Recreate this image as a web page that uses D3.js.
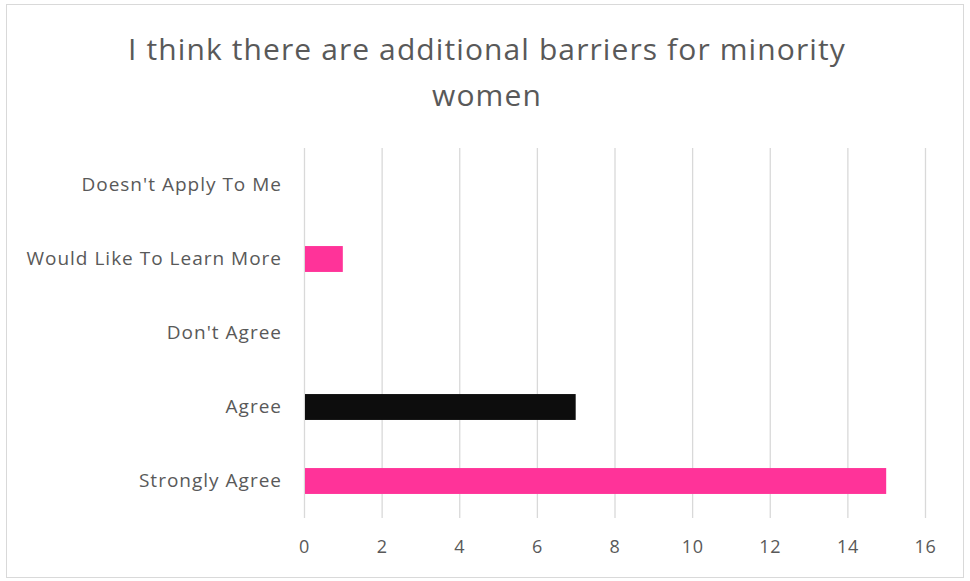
<!DOCTYPE html>
<html>
<head>
<meta charset="utf-8">
<script src="https://cdn.jsdelivr.net/npm/d3@7"></script>
<style>
  html, body { margin: 0; padding: 0; background: #fff; }
  svg { display: block; }
  text { font-family: "Open Sans", "Noto Sans", sans-serif; fill: #595959; }
</style>
</head>
<body>
<svg id="chart" width="970" height="581"></svg>
<script>
// Survey responses, top to bottom as listed on the axis
const categories = ["Doesn't Apply To Me", "Would Like To Learn More", "Don't Agree", "Agree", "Strongly Agree"];
const counts = [0, 1, 0, 7, 15];
const barColors = ["#0D0D0D", "#FF3399", "#FF3399", "#0D0D0D", "#FF3399"];
const xTicks = [0, 2, 4, 6, 8, 10, 12, 14, 16];
const titleLines = ["I think there are additional barriers for minority", "women"];

const svg = d3.select("#chart");
const plot = { left: 304, right: 925, top: 148, bottom: 518 };

// Chart frame
svg.append("rect")
  .attr("x", 6.5).attr("y", 4.5)
  .attr("width", 957).attr("height", 573)
  .attr("fill", "#fff").attr("stroke", "#d9d9d9").attr("stroke-width", 1);

// Title
const title = svg.append("text")
  .attr("text-anchor", "middle")
  .style("font-size", "30px")
  .style("letter-spacing", "1.1px");
title.selectAll("tspan").data(titleLines).join("tspan")
  .attr("x", 487)
  .attr("y", (d, i) => 60 + i * 46)
  .text(d => d);

const x = d3.scaleLinear().domain([0, 16]).range([plot.left, plot.right]);
const y = d3.scaleBand().domain(categories).range([plot.top, plot.bottom]).paddingInner(0.65).paddingOuter(0.325);

// Vertical gridlines
svg.append("g").selectAll("line").data(xTicks).join("line")
  .attr("x1", d => x(d) + 0.5).attr("x2", d => x(d) + 0.5)
  .attr("y1", plot.top).attr("y2", plot.bottom)
  .attr("stroke", "#d9d9d9").attr("stroke-width", 1.3);

// Bars
svg.append("g").selectAll("rect").data(categories).join("rect")
  .attr("x", x(0) + 1)
  .attr("y", d => y(d))
  .attr("height", y.bandwidth())
  .attr("width", (d, i) => Math.max(0, x(counts[i]) - x(0) - 1))
  .attr("fill", (d, i) => barColors[i]);

// X axis labels
const xAxis = d3.axisBottom(x).tickValues(xTicks).tickSize(0).tickPadding(0).tickFormat(d3.format("d"));
const gx = svg.append("g").attr("transform", `translate(0,${plot.bottom + 22})`).call(xAxis);
gx.select(".domain").remove();
gx.selectAll("text").style("font-size", "18px").style("letter-spacing", "0.6px")
  .style("font-family", null).attr("fill", null).attr("dy", "0.71em");

// Category labels
const yAxis = d3.axisLeft(y).tickSize(0).tickPadding(22);
const gy = svg.append("g").attr("transform", `translate(${plot.left},0)`).call(yAxis);
gy.select(".domain").remove();
gy.selectAll("text").style("font-size", "19px").style("letter-spacing", "1px")
  .style("font-family", null).attr("fill", null);
</script>
</body>
</html>
